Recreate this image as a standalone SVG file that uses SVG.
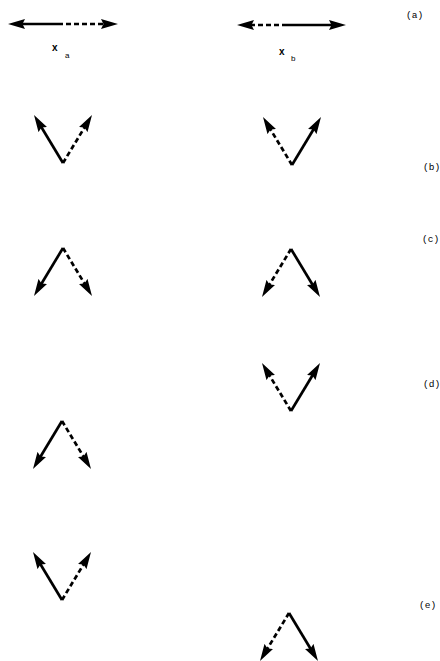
<svg xmlns="http://www.w3.org/2000/svg" width="440" height="661" viewBox="0 0 440 661">
<style>
.s{stroke:#000;stroke-width:2.7;fill:none;marker-end:url(#ah)}
.d{stroke:#000;stroke-width:2.7;fill:none;stroke-dasharray:5,3;marker-end:url(#ah)}
.lbl{font-family:"Liberation Mono",monospace;font-size:9.5px;fill:#000}
.var{font-family:"Liberation Sans",Arial,sans-serif;font-size:10px;font-weight:bold;fill:#000}
.sub{font-family:"Liberation Sans",Arial,sans-serif;font-size:8px;fill:#000}
</style>
<defs>
<marker id="ah" markerUnits="userSpaceOnUse" markerWidth="18" markerHeight="11" refX="7" refY="5" orient="auto" viewBox="0 0 18 10">
<path d="M0,0 L17,5 L0,10 L2.5,5 z" fill="#000"/>
</marker>
</defs>
<rect width="440" height="661" fill="#fff"/>
<g id="connectors">
<g id="xa">
<line class="s" x1="58" y1="24" x2="18" y2="24"/>
<line class="d" x1="58" y1="24" x2="108" y2="24"/>
</g>
<g id="xb">
<line class="d" x1="287" y1="25" x2="247" y2="25"/>
<line class="s" x1="287" y1="25" x2="336" y2="25"/>
</g>
<g id="b-left">
<line class="s" x1="63" y1="163" x2="39.17" y2="123.56"/>
<line class="d" x1="63" y1="163" x2="86.83" y2="123.56"/>
</g>
<g id="b-right">
<line class="d" x1="292" y1="165" x2="268.17" y2="125.56"/>
<line class="s" x1="292" y1="165" x2="315.83" y2="125.56"/>
</g>
<g id="c-left">
<line class="s" x1="63" y1="248" x2="39.17" y2="287.44"/>
<line class="d" x1="63" y1="248" x2="86.83" y2="287.44"/>
</g>
<g id="c-right">
<line class="d" x1="291" y1="249" x2="267.17" y2="288.44"/>
<line class="s" x1="291" y1="249" x2="314.83" y2="288.44"/>
</g>
<g id="d-right">
<line class="d" x1="291" y1="411" x2="267.17" y2="371.56"/>
<line class="s" x1="291" y1="411" x2="314.83" y2="371.56"/>
</g>
<g id="d-left">
<line class="s" x1="62" y1="421" x2="38.17" y2="460.44"/>
<line class="d" x1="62" y1="421" x2="85.83" y2="460.44"/>
</g>
<g id="e-left">
<line class="s" x1="62" y1="600" x2="38.17" y2="560.56"/>
<line class="d" x1="62" y1="600" x2="85.83" y2="560.56"/>
</g>
<g id="e-right">
<line class="d" x1="289" y1="613" x2="265.17" y2="652.44"/>
<line class="s" x1="289" y1="613" x2="312.83" y2="652.44"/>
</g>
</g>
<g id="label-xa"><text class="var" x="52" y="51">x</text><text class="sub" x="65" y="58">a</text></g>
<g id="label-xb"><text class="var" x="279" y="55">x</text><text class="sub" x="291" y="61">b</text></g>
<g id="label-a"><text class="lbl" x="406" y="18">(a)</text></g>
<g id="label-b"><text class="lbl" x="423" y="170">(b)</text></g>
<g id="label-c"><text class="lbl" x="422" y="242">(c)</text></g>
<g id="label-d"><text class="lbl" x="423" y="387">(d)</text></g>
<g id="label-e"><text class="lbl" x="419" y="608">(e)</text></g>
</svg>
